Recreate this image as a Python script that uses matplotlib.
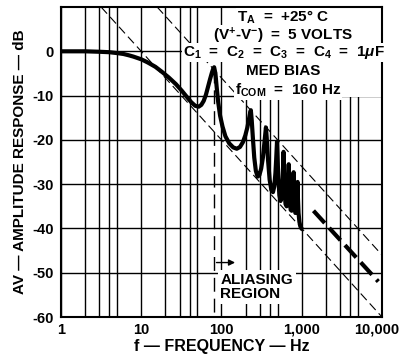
import matplotlib
matplotlib.use("Agg")
import matplotlib.pyplot as plt
from matplotlib.ticker import FixedLocator, NullFormatter
from matplotlib.transforms import ScaledTranslation
import matplotlib.patches as patches

plt.rcParams['font.family'] = ['Liberation Sans', 'DejaVu Sans']
plt.rcParams['font.weight'] = 'bold'
plt.rcParams['axes.labelweight'] = 'bold'
plt.rcParams['mathtext.fontset'] = 'custom'
plt.rcParams['mathtext.rm'] = 'Liberation Sans'
plt.rcParams['mathtext.it'] = 'Liberation Sans:italic'
plt.rcParams['mathtext.bf'] = 'Liberation Sans:bold'

# measured response (solid part)
resp_freq = [1, 2, 3, 4, 5, 6, 7, 8, 10, 12, 15, 18, 22, 27, 32, 37, 42, 47, 52, 56,
             60, 64, 68, 72, 76, 79, 81, 84, 87, 91, 96, 103, 112, 125, 140, 155, 170,
             185, 198, 210, 220, 228, 232, 238, 246, 256, 268, 282, 296, 312, 328, 342,
             352, 358, 366, 380, 398, 418, 438, 455, 470, 480, 487, 492, 498, 510, 527,
             545, 562, 575, 583, 589, 593, 598, 610, 628, 648, 663, 674, 682, 688, 694,
             708, 728, 748, 765, 777, 786, 792, 798, 812, 832, 852, 868, 880, 888, 896,
             912, 935, 960, 990, 1030]
resp_db = [0, 0, -0.1, -0.2, -0.4, -0.6, -0.9, -1.2, -1.8, -2.5, -3.5, -4.6, -5.9, -7.4,
           -8.9, -10.3, -11.5, -12.3, -12.5, -12.1, -11.2, -9.8, -8.0, -6.3, -4.8, -3.9,
           -3.6, -5.0, -8.0, -11.5, -14.5, -17.0, -19.2, -20.8, -21.7, -22.0, -21.6,
           -20.5, -19.0, -17.2, -15.3, -13.8, -13.3, -15.5, -19.5, -24.0, -27.0, -28.3,
           -28.0, -26.5, -24.0, -20.8, -18.5, -17.2, -19.5, -24.5, -29.0, -31.3, -31.8,
           -30.5, -27.5, -24.5, -22.0, -20.4, -23.0, -28.5, -32.5, -33.8, -33.0, -30.0,
           -27.0, -24.5, -22.7, -26.0, -31.5, -34.5, -35.0, -33.5, -30.5, -27.5, -25.5,
           -29.0, -33.5, -35.8, -36.0, -34.0, -31.0, -28.5, -27.3, -30.5, -34.5, -36.5,
           -36.3, -34.0, -31.5, -29.5, -33.0, -36.5, -38.5, -39.5, -40.0, -40.3]

# extrapolated part (thick dashed)
ext_freq = [1400, 9000]
ext_db = [-36, -52]

# thin dashed guide lines
guide_a_freq = [3.16, 10000]
guide_a_db = [10, -60]
guide_b_freq = [15.8, 10000]
guide_b_db = [10, -46]

# aliasing boundary (fCOM / 2)
alias_freq = [80, 80]
alias_db = [-4, -60]

x_major = [1, 10, 100, 1000, 10000]
x_labels = ['1', '10', '100', '1,000', '10,000']
x_minor = [2, 3, 4, 5, 20, 30, 40, 50, 200, 300, 400, 500, 2000, 3000, 4000, 5000]
y_ticks = [0, -10, -20, -30, -40, -50, -60]
y_labels = ['0', '-10', '-20', '-30', '-40', '-50', '-60']

fig = plt.figure(figsize=(4.01, 3.57), dpi=100)
ax = fig.add_axes([0.1521, 0.112, 0.8005, 0.8683])
ax.set_xscale('log')
ax.set_xlim(1, 10000)
ax.set_ylim(-60, 10)

ax.xaxis.set_major_locator(FixedLocator(x_major))
ax.xaxis.set_minor_locator(FixedLocator(x_minor))
ax.xaxis.set_minor_formatter(NullFormatter())
ax.set_xticklabels(x_labels, fontweight='bold')
ax.set_yticks(y_ticks)
ax.set_yticklabels(y_labels, fontweight='bold')
ax.tick_params(axis='both', which='both', length=0, labelsize=10.5)
ax.tick_params(axis='x', pad=4)
ax.tick_params(axis='y', pad=5)
last = ax.get_xticklabels()[-1]
last.set_transform(last.get_transform() + ScaledTranslation(-4 / 72, 0, fig.dpi_scale_trans))
ax.grid(True, which='both', color='black', linewidth=1.0, zorder=1)
ax.set_axisbelow(True)
for s in ax.spines.values():
    s.set_linewidth(1.5)

# white area behind the condition block
ax.add_patch(patches.Rectangle((0.55, 0.71), 0.45, 0.29, transform=ax.transAxes,
                               facecolor='white', edgecolor='none', zorder=2))

ax.plot(guide_a_freq, guide_a_db, color='black', lw=0.8, dashes=(8, 4), zorder=3)
ax.plot(guide_b_freq, guide_b_db, color='black', lw=0.8, dashes=(8, 4), zorder=3)
ax.plot(alias_freq, alias_db, color='black', lw=1.0, dashes=(10, 5), zorder=3)
ax.plot(resp_freq, resp_db, color='black', lw=3.0, solid_capstyle='butt', zorder=6)
ax.plot(ext_freq, ext_db, color='black', lw=3.0, dashes=(4, 1.6), zorder=6)

box = dict(facecolor='white', edgecolor='none', pad=0.5)
cx = 0.692
ax.text(cx, 0.967, r'T$_{\rm A}$  =  +25° C', transform=ax.transAxes, ha='center', va='center',
        fontsize=11, bbox=box, zorder=5)
ax.text(cx, 0.908, r'(V$^{+}$-V$^{-}$)  =  5 VOLTS', transform=ax.transAxes, ha='center', va='center',
        fontsize=11, bbox=box, zorder=5)
ax.text(0.694, 0.853, r'C$_{1}$  =  C$_{2}$  =  C$_{3}$  =  C$_{4}$  =  1$\mu$F', transform=ax.transAxes,
        ha='center', va='center', fontsize=11, bbox=box, zorder=5)
ax.text(cx, 0.794, 'MED BIAS', transform=ax.transAxes, ha='center', va='center',
        fontsize=11, bbox=box, zorder=5)
ax.text(0.708, 0.732, r'f$_{\rm COM}$  =  160 Hz', transform=ax.transAxes, ha='center', va='center',
        fontsize=11, bbox=box, zorder=5)

ax.annotate('', xy=(160, -47.7), xytext=(80, -47.7),
            arrowprops=dict(arrowstyle='-|>', color='black', lw=1.0, mutation_scale=9), zorder=5)
ax.text(97, -53.2, 'ALIASING\nREGION', ha='left', va='center', fontsize=11, linespacing=1.05,
        bbox=dict(facecolor='white', edgecolor='none', pad=2), zorder=5)

ax.set_xlabel('f — FREQUENCY — Hz', fontsize=11.5, labelpad=2)
ax.set_ylabel('AV — AMPLITUDE RESPONSE — dB', fontsize=11, labelpad=4)

fig.savefig('out.png', dpi=100)
